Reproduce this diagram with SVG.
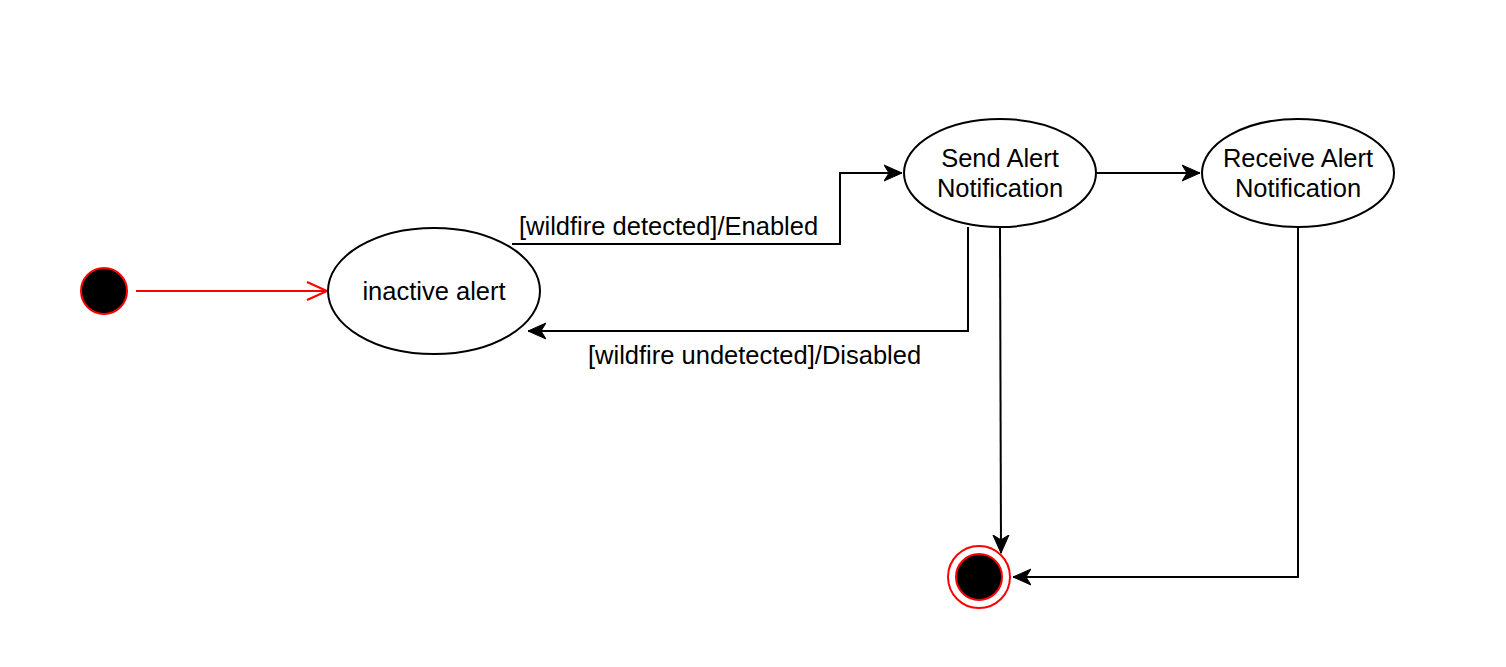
<svg xmlns="http://www.w3.org/2000/svg" width="1506" height="667" viewBox="0 0 1506 667">
<style>
.st{fill:#fff;stroke:#000;stroke-width:2}
.lbl{font-family:"Liberation Sans",Arial,sans-serif;font-size:25.5px;fill:#000}
.c{text-anchor:middle}
.edge{fill:none;stroke:#000;stroke-width:2}
</style>
<defs>
<marker id="ah" viewBox="0 0 20 20" refX="18" refY="10" markerWidth="20" markerHeight="20" markerUnits="userSpaceOnUse" orient="auto">
<path d="M0,2 L18,10 L0,18 L5,10 Z" fill="#000" stroke="#000" stroke-width="1"/>
</marker>
<marker id="open" viewBox="0 0 24 24" refX="22" refY="12" markerWidth="24" markerHeight="24" markerUnits="userSpaceOnUse" orient="auto">
<path d="M2,3 L22,12 L2,21" fill="none" stroke="#ff0000" stroke-width="2"/>
</marker>
</defs>
<rect width="1506" height="667" fill="#fff"/>
<g id="connectors">
<line x1="136" y1="291" x2="327" y2="291" stroke="#ff0000" stroke-width="2" marker-end="url(#open)"/>
<polyline class="edge" points="512,244 840,244 840,173 902,173" marker-end="url(#ah)"/>
<polyline class="edge" points="968,227 968,331 528,331" marker-end="url(#ah)"/>
<line class="edge" x1="1097" y1="173" x2="1200" y2="173" marker-end="url(#ah)"/>
<line class="edge" x1="1000" y1="227" x2="1001" y2="553" marker-end="url(#ah)"/>
<polyline class="edge" points="1298,227 1298,577 1013,577" marker-end="url(#ah)"/>
<text class="lbl" x="519" y="235">[wildfire detected]/Enabled</text>
<text class="lbl" x="588" y="364">[wildfire undetected]/Disabled</text>
</g>
<g id="start">
<circle cx="104" cy="291" r="23" fill="#000" stroke="#ff0000" stroke-width="2"/>
</g>
<g id="inactive">
<ellipse class="st" cx="434" cy="291" rx="106" ry="63"/>
<text class="lbl c" x="434" y="300">inactive alert</text>
</g>
<g id="send">
<ellipse class="st" cx="1000" cy="173" rx="96" ry="54"/>
<text class="lbl c" x="1000" y="167">Send Alert</text>
<text class="lbl c" x="1000" y="197">Notification</text>
</g>
<g id="receive">
<ellipse class="st" cx="1298" cy="173" rx="96" ry="54"/>
<text class="lbl c" x="1298" y="167">Receive Alert</text>
<text class="lbl c" x="1298" y="197">Notification</text>
</g>
<g id="end">
<circle cx="979" cy="577" r="31" fill="#fff" stroke="#ff0000" stroke-width="2"/>
<circle cx="979" cy="577" r="23" fill="#000" stroke="#ff0000" stroke-width="2"/>
</g>
</svg>
